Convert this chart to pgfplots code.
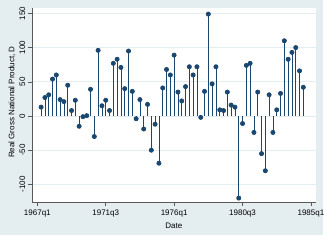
\documentclass[border=0pt]{standalone}
\usepackage{pgfplots}
\pgfplotsset{compat=1.18}
\usepackage{fontspec}
\setmainfont{Liberation Sans}
\definecolor{bgblue}{RGB}{228,238,241}
\definecolor{gridc}{RGB}{228,238,241}
\definecolor{navy}{RGB}{26,71,111}
\begin{document}
\begin{tikzpicture}
\useasboundingbox (0pt,0pt) rectangle (330pt,241pt);
\fill[white] (0pt,0pt) rectangle (330pt,241pt);
\fill[bgblue] (0pt,6pt) rectangle (323pt,241pt);
\begin{axis}[
  at={(32.3pt,39pt)}, anchor=south west,
  scale only axis, width=283.2pt, height=194pt,
  xmin=-1.32, xmax=73.2, ymin=-125.7, ymax=157.9,
  axis background/.style={fill=white},
  axis x line*=bottom, axis y line*=left,
  axis line style={black!65, line width=0.5pt, -},
  tick align=outside, major tick length=4pt,
  tick style={black!65, line width=0.5pt},
  xtick={0,18,36,54,72},
  xticklabels={1967q1,1971q3,1976q1,1980q3,1985q1},
  ytick={-100,-50,0,50,100,150},
  yticklabels={-100,-50,0,50,100,150},
  yticklabel shift=3pt,
  yticklabel style={rotate=90, anchor=south, inner sep=0pt, font=\fontsize{8}{9}\selectfont},
  xticklabel style={font=\fontsize{8}{9}\selectfont},
  ymajorgrids, grid style={gridc, line width=0.8pt},
  xlabel={Date}, ylabel={Real Gross National Product, D},
  label style={font=\fontsize{8}{9}\selectfont},
  xlabel style={at={(axis description cs:0.5,-0.123)}, anchor=center},
  ylabel style={at={(axis description cs:-0.0716,0.515)}, anchor=center},
  clip=false,
]
\addplot[ycomb, navy, line width=0.7pt, mark=*, mark size=2.1pt, mark options={fill=navy, draw=navy}] table {
x y
1 13
2 27
3 31
4 54
5 60
6 24
7 21
8 45
9 8
10 23
11 -15
12 -1
13 0.5
14 39
15 -30
16 96
17 15
18 23
19 8
20 77
21 83
22 71
23 40
24 95
25 36
26 -4
27 24
28 -19
29 17
30 -50
31 -12
32 -69
33 41
34 68
35 60
36 89
37 35
38 22
39 43
40 72
41 60
42 72
43 -2
44 36
45 149
46 47
47 72
48 9
49 8
50 35
51 16
52 13
53 -120
54 -11
55 74
56 77
57 -24
58 35
59 -55
60 -80
61 31
62 -24
63 9
64 33
65 110
66 83
67 93
68 100
69 66
70 42
};
\end{axis}
\end{tikzpicture}
\end{document}
